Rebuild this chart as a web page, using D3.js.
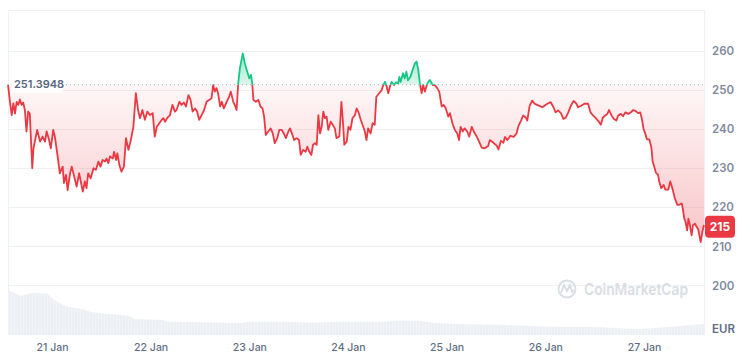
<!DOCTYPE html>
<html><head><meta charset="utf-8">
<script src="https://cdn.jsdelivr.net/npm/d3@7"></script>
<style>html,body{margin:0;padding:0;background:#fff;}svg{display:block;font-family:Inter,"Noto Sans",sans-serif;}</style>
</head><body><svg id="chart" width="750" height="356"></svg>
<script>
// ---------- data ----------
const startTime = "2025-01-20T13:18:00Z";
const spanHours = 169.3;
const dateTicks = ["2025-01-21","2025-01-22","2025-01-23","2025-01-24","2025-01-25","2025-01-26","2025-01-27"];
const dateTickLabels = ["21 Jan","22 Jan","23 Jan","24 Jan","25 Jan","26 Jan","27 Jan"];
const priceTicks = [200,210,220,230,240,250,260];
const currency = "EUR";
const openPrice = 251.3948;
const openPriceLabel = "251.3948";
const lastPriceLabel = "215";
const lastPrice = 215;
const watermark = "CoinMarketCap";
// [hours since start, price EUR]
const priceSeries = [[0,251.39],[0.5,246.7],[0.9,243.6],[1.3,246.6],[1.7,244],[2.1,247],[2.5,246.2],[2.9,247.6],[3.3,246.2],[3.7,246.8],[4.1,244.9],[4.5,239.4],[4.9,244.5],[5.3,244],[5.9,230],[6.2,235.1],[7.1,239.8],[7.8,236.8],[8.4,238.1],[9.0,236.8],[9.4,239.4],[10.0,237.2],[10.4,235.1],[11.0,239.8],[11.4,238.1],[11.8,235.1],[12.2,232.1],[12.6,228.7],[13.3,230.4],[13.6,226.2],[14.1,228.3],[14.5,224.4],[15.1,228.7],[15.5,230.4],[16.0,228.3],[16.7,225.3],[17.3,228.7],[17.7,226.6],[18.2,224],[18.7,226.6],[19.1,224.9],[19.5,228.7],[20.1,227.4],[20.8,230],[21.4,229.6],[22.0,231.7],[22.5,230.4],[23.0,232.1],[23.6,231.7],[24.0,232.5],[24.4,231.3],[24.8,233],[25.5,232.5],[25.8,234.2],[26.3,232.1],[26.6,233.8],[27.1,230.8],[27.6,229.1],[28.2,230.4],[28.7,237.7],[29.3,234.7],[29.8,236.8],[30.5,240.6],[31.1,249.2],[31.7,244.5],[32.1,242.8],[32.7,244.9],[33.3,242.4],[33.9,244.5],[34.5,243.6],[35.2,244.1],[35.7,238.1],[36.2,240.6],[36.8,241.5],[37.4,242.4],[37.8,242.8],[38.2,241.9],[38.7,242.8],[39.4,243.6],[40.0,246.2],[40.6,244.5],[41.0,244.9],[41.7,247],[42.2,246.2],[42.8,246.8],[43.3,245.8],[43.9,248.7],[44.4,247.5],[44.9,244.5],[45.5,245.3],[46.0,244.5],[46.5,242.4],[47.1,243.6],[47.7,244.9],[48.3,247],[49.0,247.5],[49.5,247.9],[49.9,251.3],[50.3,249.6],[50.7,250.5],[51.1,249.2],[51.6,245.8],[52.0,247],[52.5,245.3],[53.2,247],[53.8,248.3],[54.2,249.6],[54.8,247],[55.3,245.8],[55.6,244.9],[56.0,251.7],[56.4,255.5],[57.1,259.4],[57.6,256.9],[58.2,254.7],[58.7,253],[59.1,253.9],[59.4,251.7],[59.7,247.5],[60.3,247],[60.9,247.5],[61.4,245.8],[61.9,245.3],[62.3,243.2],[62.7,238.5],[63.3,239.4],[63.9,240.2],[64.4,238.9],[64.9,236.4],[65.5,237.7],[66.0,239.8],[66.6,239.8],[67.1,238.9],[67.6,237.7],[68.2,239.4],[68.6,240.2],[69.2,238.5],[69.6,237.2],[70.2,237.7],[70.8,237.2],[71.2,233.4],[71.8,234.7],[72.4,234.2],[72.8,235.5],[73.3,234.2],[73.8,233.4],[74.2,236],[74.7,236.4],[75.1,236],[75.5,243.6],[75.9,238.9],[76.3,240.6],[76.7,244.5],[77.1,242.8],[77.5,243.2],[77.9,239.8],[78.5,241.9],[79.0,241.1],[79.5,240.2],[79.9,237.7],[80.6,238.1],[81.1,247],[81.5,241.5],[81.8,236],[82.4,236.8],[82.8,240.6],[83.3,239.8],[83.8,242.8],[84.4,243.6],[84.8,245.3],[85.2,244.5],[85.8,242.4],[86.4,240.6],[86.8,239.4],[87.2,237.2],[87.6,240.2],[88.2,238.9],[88.7,241.5],[89.2,241.1],[89.6,248.3],[90.3,249.2],[90.9,250],[91.3,251.3],[91.7,252.1],[92.1,250.9],[92.5,249.2],[92.9,250.9],[93.3,252.1],[93.9,251.3],[94.4,252],[94.9,251.7],[95.2,253.4],[95.5,252.1],[96.1,254.3],[96.5,253],[96.9,254.7],[97.3,252.5],[97.9,253.4],[98.4,255.1],[99.0,256.9],[99.4,257.3],[99.8,255.1],[100.2,251.7],[100.6,249.2],[101.0,251.3],[101.4,249.6],[102.0,251.7],[102.6,252.6],[103.3,251.3],[103.8,251.3],[104.4,250.5],[104.9,249.6],[105.5,245.8],[106.0,246.2],[106.5,245.3],[107.1,243.2],[107.5,244.1],[108.1,241.5],[108.7,239.8],[109.3,238.9],[109.7,237.2],[110.1,240.6],[110.6,239.4],[111.1,240.2],[111.7,239.4],[112.2,238.1],[112.8,240.6],[113.3,239.4],[114.0,238.1],[114.6,236.8],[115.2,235.3],[116.0,235.1],[116.8,235.7],[117.2,237.2],[118.1,236.5],[118.9,235.7],[119.3,234.8],[119.9,237],[120.5,236.5],[120.9,238],[121.5,237.2],[122.2,238.3],[123.0,238],[123.7,238.9],[124.2,240.9],[124.8,242.2],[125.3,243.5],[125.9,243],[126.3,242.2],[126.9,246],[127.5,247.3],[128.1,246.5],[128.7,246.2],[129.4,245.9],[130.0,245.6],[130.5,246],[131.2,246.5],[132.0,246.9],[132.7,245.6],[133.2,244.3],[133.8,244.8],[134.5,244.1],[135.1,242.6],[135.7,243],[136.3,244.3],[136.9,246],[137.6,247.2],[138.2,246.6],[138.7,245.6],[139.4,246],[140.2,246.5],[141.1,246.5],[141.7,244.3],[142.3,243.5],[142.8,243],[143.5,242.2],[144.2,241.1],[144.7,243],[145.3,243.5],[145.8,243.9],[146.2,244.9],[146.8,243.5],[147.4,242.6],[148.0,242.2],[148.4,243.5],[149.1,243.9],[149.6,243.3],[150.2,244.3],[150.9,243.9],[151.5,244.3],[152.1,244.9],[152.7,244.6],[153.3,244.1],[153.8,244.3],[154.2,242.6],[154.6,240],[155.0,238.9],[155.4,237.4],[156.0,237.4],[156.5,235.3],[156.8,231.8],[157.3,230],[157.6,228.8],[158.1,228.4],[158.4,226.6],[158.9,224.9],[159.5,225.7],[159.9,224.5],[160.6,224.5],[161.1,226.6],[161.7,224.5],[162.2,222.3],[162.8,220.6],[163.4,220.7],[163.9,221],[164.2,219.3],[164.5,217.1],[164.8,216.3],[165.2,214.1],[165.5,217.1],[165.8,215.8],[166.3,212.8],[166.6,215.4],[167.1,215.8],[167.5,215],[167.9,214.3],[168.5,211.1],[168.9,213.7],[169.3,215.5]];
// [hours since start, volume (M EUR)]
const volumeSeries = [[0.2,45],[3.1,39],[6.0,42],[9.5,41.7],[10.9,36],[13.4,30],[15.1,27.7],[18.2,26],[19.9,23.3],[22.4,21.7],[25.5,20.7],[29.7,19],[30.8,16],[37.7,15],[38.9,13.3],[47.2,12.7],[56.4,11.7],[58.8,13.3],[68.1,13.3],[73.9,12.3],[79.9,13.3],[91.6,13.3],[93.9,14.3],[99.7,14.3],[103.3,12.3],[109.1,11],[120.8,10],[132.5,8.3],[144.2,7.7],[153.4,5.7],[157.1,7],[161.7,8.3],[166.3,10],[169.3,11]];

// ---------- chart ----------
const W = 750, H = 356;
const L = 8, R = 704, T = 10, B = 335;
const RED = "#ea3943", GREEN = "#16c784";
const t0 = new Date(startTime);
const toDate = h => d3.utcMinute.offset(t0, Math.round(h * 60));

const svg = d3.select("#chart");
const defs = svg.append("defs");

const x = d3.scaleUtc().domain([t0, toDate(spanHours)]).range([L, R]);
const y = d3.scaleLinear().domain([187.3, 270.5]).range([B, T]);
const yv = d3.scaleLinear().domain([0, 50]).range([B, B - 50]);
const baseY = y(openPrice);

// frame
svg.append("path").attr("d", `M${L},${B}V${T}H${R}V${B}`).attr("fill", "none").attr("stroke", "#eff2f5").attr("stroke-width", 1).attr("shape-rendering","crispEdges");

// grid
svg.append("g").selectAll("line").data(priceTicks).join("line")
  .attr("x1", L).attr("x2", R)
  .attr("y1", d => Math.round(y(d)) + 0.5).attr("y2", d => Math.round(y(d)) + 0.5)
  .attr("stroke", "#eff2f5").attr("stroke-width", 1);

// volume
const pat = defs.append("pattern").attr("id", "vstripe").attr("patternUnits", "userSpaceOnUse")
  .attr("width", 3).attr("height", 10);
pat.append("rect").attr("width", 3).attr("height", 10).attr("fill", "#f5f6f8");
pat.append("rect").attr("width", 2.2).attr("height", 10).attr("fill", "#eceff3");
svg.append("path").datum(volumeSeries)
  .attr("d", d3.area().x(d => x(toDate(d[0]))).y0(B).y1(d => yv(d[1])))
  .attr("fill", "url(#vstripe)");

// watermark
const wm = svg.append("g").attr("fill", "none").attr("stroke", "#d9dde4").attr("stroke-width", 1.8);
wm.append("circle").attr("cx", 567).attr("cy", 289).attr("r", 8.5);
wm.append("path").attr("d", "M561,293 L564,285 L567,291 L570,285 L572,292 L574,290");
svg.append("text").attr("x", 584).attr("y", 295).text(watermark)
  .attr("font-size", 16).attr("font-weight", 600).attr("fill", "#d9dde4")
  .attr("textLength", 104).attr("lengthAdjust", "spacingAndGlyphs");

// clips
defs.append("clipPath").attr("id", "above").append("rect").attr("x", 0).attr("y", 0).attr("width", W).attr("height", baseY);
defs.append("clipPath").attr("id", "below").append("rect").attr("x", 0).attr("y", baseY).attr("width", W).attr("height", H - baseY);

// gradients
const gr = defs.append("linearGradient").attr("id", "gRed").attr("gradientUnits", "userSpaceOnUse")
  .attr("x1", 0).attr("x2", 0).attr("y1", baseY).attr("y2", y(210));
gr.append("stop").attr("offset", 0).attr("stop-color", RED).attr("stop-opacity", 0.04);
gr.append("stop").attr("offset", 1).attr("stop-color", RED).attr("stop-opacity", 0.3);
const gg = defs.append("linearGradient").attr("id", "gGreen").attr("gradientUnits", "userSpaceOnUse")
  .attr("x1", 0).attr("x2", 0).attr("y1", baseY).attr("y2", y(260));
gg.append("stop").attr("offset", 0).attr("stop-color", GREEN).attr("stop-opacity", 0.15);
gg.append("stop").attr("offset", 1).attr("stop-color", GREEN).attr("stop-opacity", 0.45);

const area = d3.area().x(d => x(toDate(d[0]))).y0(baseY).y1(d => y(d[1]));
const line = d3.line().x(d => x(toDate(d[0]))).y(d => y(d[1]));

svg.append("path").datum(priceSeries).attr("d", area).attr("fill", "url(#gRed)").attr("clip-path", "url(#below)");
svg.append("path").datum(priceSeries).attr("d", area).attr("fill", "url(#gGreen)").attr("clip-path", "url(#above)");

// baseline dotted
svg.append("line").attr("x1", 62).attr("x2", R).attr("y1", baseY).attr("y2", baseY)
  .attr("stroke", "#a6b0c3").attr("stroke-width", 1).attr("stroke-dasharray", "1,3");

// price line
svg.append("path").datum(priceSeries).attr("d", line).attr("fill", "none").attr("stroke", RED)
  .attr("stroke-width", 1.8).attr("stroke-linejoin", "round").attr("clip-path", "url(#below)");
svg.append("path").datum(priceSeries).attr("d", line).attr("fill", "none").attr("stroke", GREEN)
  .attr("stroke-width", 1.8).attr("stroke-linejoin", "round").attr("clip-path", "url(#above)");

// open price label
svg.append("rect").attr("x", 11).attr("y", baseY - 8).attr("width", 52).attr("height", 16).attr("rx", 3).attr("fill", "#fff").attr("fill-opacity", 0.9);
svg.append("text").attr("x", 14).attr("y", baseY).attr("dy", "0.35em").text(openPriceLabel)
  .attr("font-size", 11).attr("font-weight", 600).attr("fill", "#58667e");

// right axis
const yAxis = svg.append("g").attr("transform", `translate(${R},0)`)
  .call(d3.axisRight(y).tickValues(priceTicks).tickSize(0).tickPadding(8).tickFormat(d3.format("d")));
yAxis.select(".domain").remove();
yAxis.selectAll("text").attr("font-size", 11.5).attr("font-weight", 600).attr("fill", "#808a9d").attr("font-family", "Inter, sans-serif");
svg.append("text").attr("x", R + 8).attr("y", 329).attr("dy", "0.35em").text(currency)
  .attr("font-size", 11.5).attr("font-weight", 600).attr("fill", "#616e85");

// x axis
const xAxis = svg.append("g").attr("transform", `translate(0,${B})`)
  .call(d3.axisBottom(x).tickValues(dateTicks.map(d => new Date(d + "T00:00:00Z"))).tickSize(0).tickPadding(9)
    .tickFormat((d, i) => dateTickLabels[i]));
xAxis.select(".domain").remove();
xAxis.selectAll("text").attr("font-size", 10.5).attr("font-weight", 500).attr("fill", "#616e85").attr("font-family", "Inter, sans-serif");

// last price tag
const ly = y(lastPrice);
svg.append("rect").attr("x", R + 1).attr("y", ly - 11).attr("width", 30).attr("height", 22).attr("rx", 4).attr("fill", RED);
svg.append("text").attr("x", R + 16).attr("y", ly).attr("dy", "0.35em").attr("text-anchor", "middle").text(lastPriceLabel)
  .attr("font-size", 12).attr("font-weight", 700).attr("fill", "#fff");
</script></body></html>
